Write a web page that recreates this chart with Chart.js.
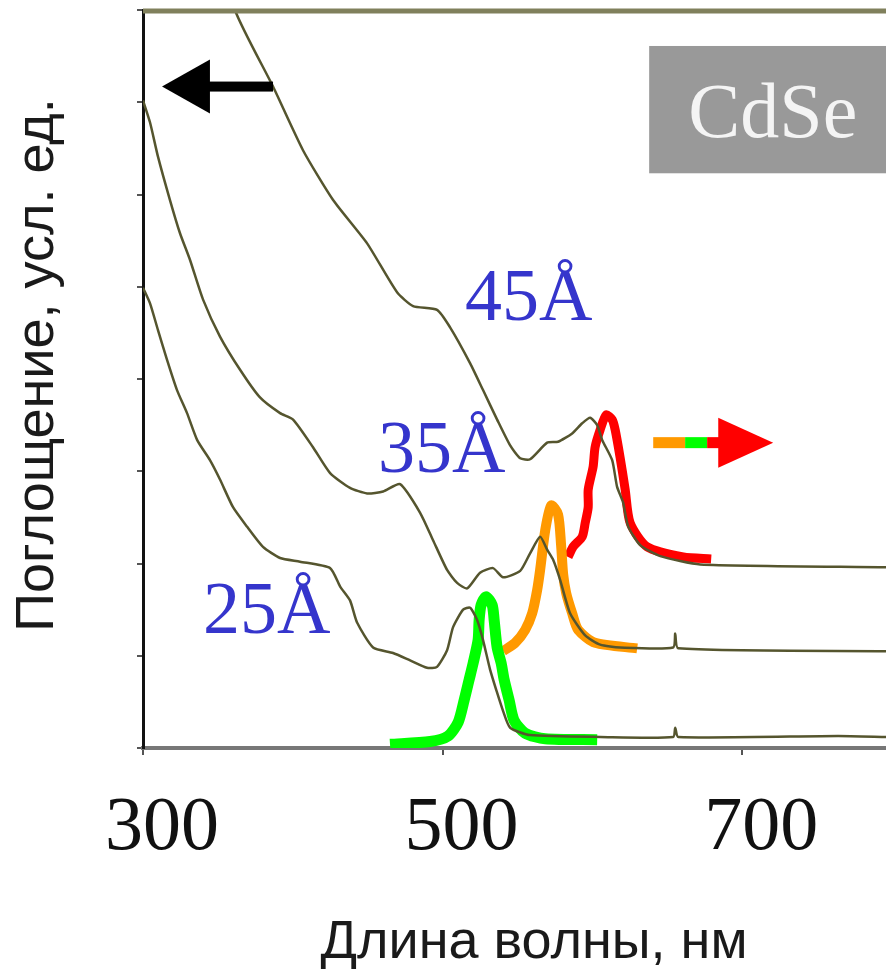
<!DOCTYPE html>
<html>
<head>
<meta charset="utf-8">
<script src="https://cdn.jsdelivr.net/npm/chart.js@4.4.1/dist/chart.umd.min.js"></script>
<style>
  html, body { margin: 0; padding: 0; background: #fff; overflow: hidden; }
  canvas { display: block; }
</style>
</head>
<body>
<canvas id="cdseChart" width="886" height="970" style="width:886px;height:970px"></canvas>
<script>
// absorption spectra (left arrow), wavelength in nm
var abs25Wl  = [300, 304.7, 310, 316, 322.7, 329.4, 336.1, 344.7, 351.4, 360.1, 369.4, 380.1, 391.5, 404.8, 424.9, 431.6, 438.2, 442.9, 453.6, 466.9, 478.3, 489.6, 496.3, 503, 507, 513.7, 518.4, 523, 527, 531.7, 536, 540.4, 545.1, 558.4, 605.2, 653.9, 655.3, 657.3, 764, 796];
var abs25Val = [4.99, 4.82, 4.53, 4.21, 3.88, 3.63, 3.34, 3.12, 2.91, 2.61, 2.40, 2.18, 2.06, 2.02, 1.95, 1.75, 1.60, 1.36, 1.09, 1.03, 0.95, 0.87, 0.88, 1.06, 1.31, 1.50, 1.52, 1.39, 1.17, 0.85, 0.62, 0.40, 0.22, 0.14, 0.12, 0.12, 0.22, 0.12, 0.13, 0.12];

var abs35Wl  = [300, 304.7, 310, 318, 324.7, 331.4, 340.1, 351.4, 364.8, 378.1, 391.5, 400.2, 413.5, 424.9, 438.2, 449.6, 460.3, 471.6, 485, 493.7, 503, 509.7, 516.4, 525, 533.7, 540.4, 551.8, 558.4, 565.1, 569.8, 573.8, 578.5, 585.1, 595.2, 605.2, 618.5, 653.9, 655.3, 657.3, 796];
var abs35Val = [7.02, 6.78, 6.41, 5.94, 5.58, 5.29, 4.86, 4.46, 4.10, 3.80, 3.63, 3.56, 3.26, 2.98, 2.82, 2.76, 2.78, 2.86, 2.55, 2.25, 1.93, 1.79, 1.73, 1.90, 1.95, 1.85, 1.92, 2.11, 2.29, 2.15, 2.04, 1.82, 1.46, 1.22, 1.12, 1.09, 1.09, 1.24, 1.08, 1.05];

var abs45Wl  = [356, 361.4, 386.8, 406.8, 426.9, 449.6, 469.6, 480.3, 496.3, 505, 518.4, 527, 536.4, 545.1, 551.8, 558.4, 569.8, 577.1, 586.5, 593.2, 598.5, 603.2, 606.5, 613.2, 616.5, 620.5, 623.9, 631.9, 645.3, 672, 796];
var abs45Val = [8.6, 8.0, 7.17, 6.48, 5.94, 5.47, 4.94, 4.79, 4.75, 4.56, 4.17, 3.88, 3.56, 3.28, 3.14, 3.13, 3.31, 3.32, 3.41, 3.52, 3.58, 3.50, 3.34, 3.12, 2.83, 2.66, 2.40, 2.20, 2.08, 1.99, 1.96];

// photoluminescence spectra (right arrow)
var pl25Wl  = [464.9, 491.7, 503.7, 510.4, 514.4, 517.7, 520.4, 523.7, 524.4, 525.7, 529, 533.1, 534.4, 536.4, 539.1, 541.1, 544.4, 547.7, 555.1, 568.5, 603.2];
var pl25Val = [0.04, 0.07, 0.13, 0.28, 0.52, 0.74, 0.92, 1.17, 1.39, 1.55, 1.64, 1.55, 1.39, 1.09, 0.92, 0.74, 0.52, 0.30, 0.16, 0.10, 0.09];

var pl35Wl  = [540.4, 548.4, 555.1, 559.8, 563.1, 565.1, 568.5, 572.5, 577.1, 579.1, 580.5, 582.5, 586.5, 590.5, 601.8, 629.9];
var pl35Val = [1.05, 1.14, 1.28, 1.46, 1.71, 1.93, 2.36, 2.63, 2.53, 2.20, 1.88, 1.68, 1.46, 1.28, 1.14, 1.08];

var pl45Wl  = [583.8, 587.1, 593.2, 595.2, 597.2, 597.2, 600.5, 601.8, 605.2, 609.2, 613.2, 615.2, 618.5, 621.9, 625.2, 636.6, 660.6, 679.3];
var pl45Val = [2.07, 2.18, 2.29, 2.44, 2.61, 2.80, 3.05, 3.26, 3.45, 3.61, 3.56, 3.45, 3.15, 2.80, 2.44, 2.18, 2.07, 2.05];

var xTicks = [300, 500, 700];
var yTicks = [0, 1, 2, 3, 4, 5, 6, 7, 8];
var sizeLabels = ["25Å", "35Å", "45Å"];

function pts(xs, ys) {
  return xs.map(function (x, i) { return { x: x, y: ys[i] }; });
}

var olive = "#55552e";

function absSet(xs, ys) {
  return { data: pts(xs, ys), borderColor: olive, borderWidth: 2.5, pointRadius: 0, tension: 0.2, clip: 0 };
}
function plSet(xs, ys, color, w) {
  return { data: pts(xs, ys), borderColor: color, borderWidth: w, pointRadius: 0, tension: 0.25, clip: 0, borderJoinStyle: "round" };
}

// texts, arrows and frame bits
var decorPlugin = {
  id: "decor",
  afterDraw: function (chart) {
    var ctx = chart.ctx, a = chart.chartArea;
    var xs = chart.scales.x, ys = chart.scales.y;
    function px(v) { return xs.getPixelForValue(v); }
    function py(v) { return ys.getPixelForValue(v); }
    ctx.save();

    // top frame line
    ctx.strokeStyle = "#80805c";
    ctx.lineWidth = 5;
    ctx.beginPath();
    ctx.moveTo(a.left, a.top + 1);
    ctx.lineTo(a.right, a.top + 1);
    ctx.stroke();

    // size labels
    ctx.fillStyle = "#3535cc";
    ctx.font = "74px 'Liberation Serif'";
    ctx.textAlign = "left";
    ctx.textBaseline = "alphabetic";
    ctx.fillText(sizeLabels[0], px(340.1), py(1.25));
    ctx.fillText(sizeLabels[1], px(456.9), py(2.99));
    ctx.fillText(sizeLabels[2], px(515), py(4.64));

    // left arrow (absorption axis)
    var ay = py(7.17);
    ctx.fillStyle = "#000";
    ctx.fillRect(px(340), ay - 5, px(386.8) - px(340), 10);
    ctx.beginPath();
    ctx.moveTo(px(312.7), ay);
    ctx.lineTo(px(344.7), ay - 27);
    ctx.lineTo(px(344.7), ay + 27);
    ctx.closePath();
    ctx.fill();

    // right arrow (PL axis)
    var ry = py(3.31);
    ctx.fillStyle = "#ff9900";
    ctx.fillRect(px(640.6), ry - 5.5, px(661.9) - px(640.6), 11);
    ctx.fillStyle = "#00ff00";
    ctx.fillRect(px(661.9), ry - 5.5, px(676.6) - px(661.9), 11);
    ctx.fillStyle = "#ff0000";
    ctx.fillRect(px(676.6), ry - 5.5, px(685) - px(676.6), 11);
    ctx.beginPath();
    ctx.moveTo(px(684), ry - 25);
    ctx.lineTo(px(720.7), ry);
    ctx.lineTo(px(684), ry + 25);
    ctx.closePath();
    ctx.fill();

    // CdSe box
    ctx.fillStyle = "#999999";
    ctx.fillRect(px(637.9), py(7.61), a.right - px(637.9), py(6.23) - py(7.61));
    ctx.fillStyle = "#f4f4f4";
    ctx.font = "78px 'Liberation Serif'";
    ctx.fillText("CdSe", px(664), py(6.62));

    // axis titles
    ctx.fillStyle = "#1a1a1a";
    ctx.font = "54px 'Liberation Sans'";
    ctx.textAlign = "center";
    ctx.fillText("Длина волны, нм", 534, 958);
    ctx.translate(53, 365);
    ctx.rotate(-Math.PI / 2);
    ctx.fillText("Поглощение, усл. ед.", 0, 0);
    ctx.restore();
  }
};

new Chart("cdseChart", {
  type: "line",
  data: {
    datasets: [
      absSet(abs25Wl, abs25Val),
      absSet(abs35Wl, abs35Val),
      absSet(abs45Wl, abs45Val),
      plSet(pl25Wl, pl25Val, "#00ff00", 11),
      plSet(pl35Wl, pl35Val, "#ff9900", 10),
      plSet(pl45Wl, pl45Val, "#ff0000", 9)
    ]
  },
  options: {
    responsive: false,
    animation: false,
    devicePixelRatio: 1,
    layout: { padding: { top: 10, left: 0, right: 0, bottom: 0 } },
    plugins: { legend: { display: false }, tooltip: { enabled: false } },
    scales: {
      x: {
        type: "linear",
        min: 300,
        max: 796,
        afterBuildTicks: function (s) { s.ticks = xTicks.map(function (v) { return { value: v }; }); },
        afterFit: function (s) { s.height = 222; },
        border: { color: "#777", width: 4 },
        grid: { drawOnChartArea: false, drawTicks: true, tickLength: 7, color: "#555", lineWidth: 2 },
        ticks: {
          color: "#111",
          font: { family: "'Liberation Serif'", size: 76 },
          padding: 28,
          labelOffset: 19,
          maxRotation: 0
        }
      },
      y: {
        min: 0,
        max: 8,
        afterBuildTicks: function (s) { s.ticks = yTicks.map(function (v) { return { value: v }; }); },
        afterFit: function (s) { s.width = 143; },
        border: { color: "#111", width: 3 },
        grid: { drawOnChartArea: false, drawTicks: true, tickLength: 6, color: "#555", lineWidth: 2 },
        ticks: { display: false }
      }
    }
  },
  plugins: [decorPlugin]
});
</script>
</body>
</html>
